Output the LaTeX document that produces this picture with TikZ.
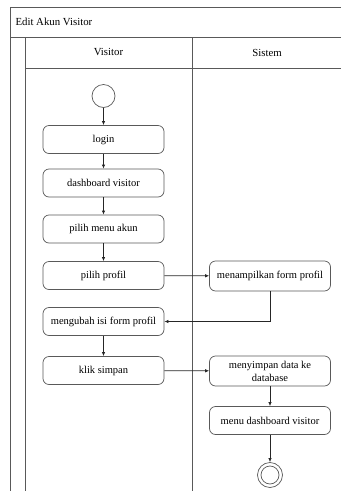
\documentclass[tikz,border=0pt]{standalone}
\usepackage{fontspec}
\setmainfont{Liberation Serif}
\usetikzlibrary{arrows.meta}
\begin{document}
\begin{tikzpicture}[x=1pt,y=-1pt,
  frame/.style={draw=gray!70!black, line width=0.9pt},
  act/.style={draw=gray!70!black, line width=0.7pt, rounded corners=6pt, minimum width=121pt, minimum height=28pt, inner sep=1pt, align=center, font=\fontsize{10.5}{13}\selectfont},
  flow/.style={draw=gray!30!black, line width=0.7pt, -{Latex[length=4pt,width=3.5pt]}},
  lbl/.style={font=\fontsize{10.8}{12}\selectfont}]
\useasboundingbox (0,0) rectangle (341,491);
% frame
\draw[frame] (10,491) -- (10,7) -- (341,7);
\draw[frame] (10,37) -- (341,37);
\draw[frame] (25,37) -- (25,491);
\draw[frame] (25,68) -- (341,68);
\draw[frame] (192,37) -- (192,491);
\node[lbl, anchor=west] (title) at (12,22) {Edit Akun Visitor};
\node[lbl] (hv) at (108.5,52.5) {Visitor};
\node[lbl] (hs) at (267,52.5) {Sistem};
% nodes
\node[draw=gray!70!black, line width=0.7pt, circle, minimum size=23pt, inner sep=0pt] (start) at (103.5,96) {};
\node[act] (login) at (103.5,139.5) {login};
\node[act] (dash) at (103.5,183) {dashboard visitor};
\node[act] (menu) at (103.5,229) {pilih menu akun};
\node[act] (profil) at (103.5,275.5) {pilih profil};
\node[act, minimum height=30pt] (tampil) at (270,276) {menampilkan form profil};
\node[act] (ubah) at (103.5,321.5) {mengubah isi form profil};
\node[act] (klik) at (103.5,370.5) {klik simpan};
\node[act, minimum height=30pt] (simpan) at (270,371) {menyimpan data ke\\database};
\node[act] (mdash) at (270,420.5) {menu dashboard visitor};
\node[draw=gray!70!black, line width=0.7pt, circle, minimum size=25pt, inner sep=0pt] (end) at (270,475) {};
\node[draw=gray!70!black, line width=0.7pt, circle, minimum size=18pt, inner sep=0pt] (endin) at (270,475) {};
% flows
\draw[flow] (start) -- (login);
\draw[flow] (login) -- (dash);
\draw[flow] (dash) -- (menu);
\draw[flow] (menu) -- (profil);
\draw[flow] (profil) -- (tampil);
\draw[flow] (tampil.south) -- (tampil.south |- ubah.east) -- (ubah.east);
\draw[flow] (ubah) -- (klik);
\draw[flow] (klik) -- (simpan);
\draw[flow] (simpan) -- (mdash);
\draw[flow] (mdash.south) -- (end.north);
\end{tikzpicture}
\end{document}
